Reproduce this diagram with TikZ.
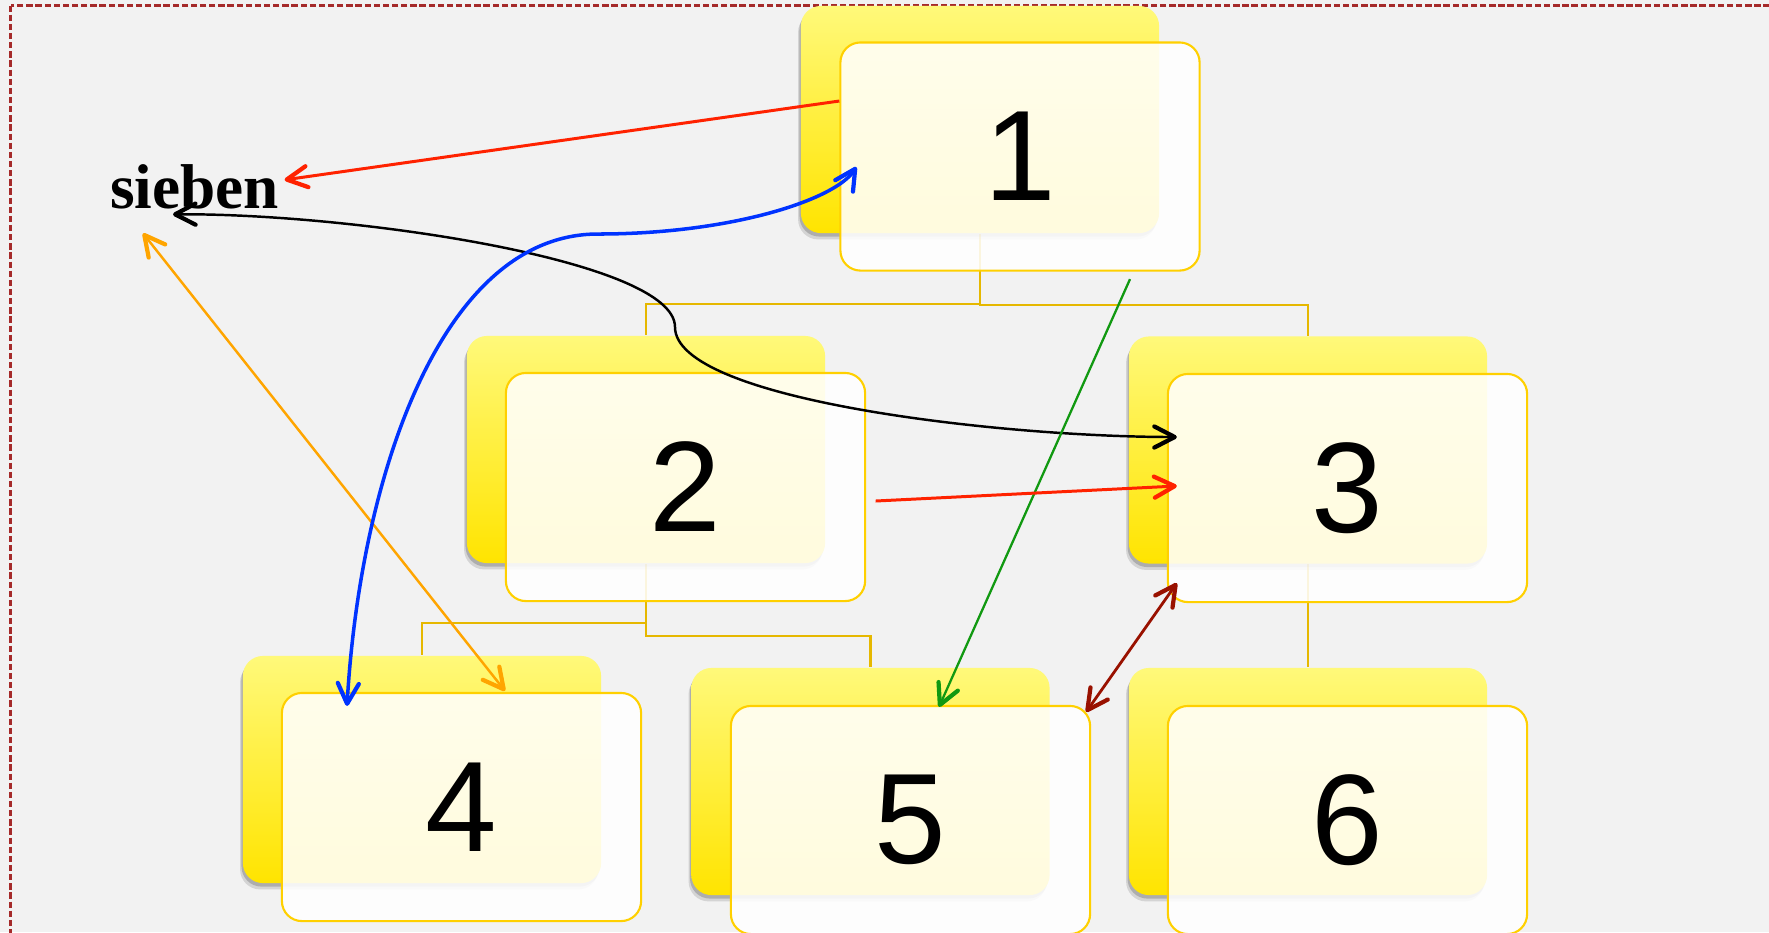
\documentclass[tikz,border=0pt]{standalone}
\usepackage{fontspec}
\setmainfont{Liberation Sans}
\newfontfamily\sebfont{Liberation Serif}
\usetikzlibrary{arrows.meta,calc,shadows}

\definecolor{bg}{HTML}{F2F2F2}
\definecolor{framec}{HTML}{A52A2A}
\definecolor{treeline}{HTML}{E6B800}
\definecolor{ytop}{HTML}{FFF97A}
\definecolor{ybot}{HTML}{FFE400}
\definecolor{fborder}{HTML}{FFD000}
\definecolor{ared}{HTML}{FF2200}
\definecolor{ablue}{HTML}{0033FF}
\definecolor{aorange}{HTML}{FFA500}
\definecolor{agreen}{HTML}{119911}
\definecolor{adark}{HTML}{991100}

\pgfdeclarelayer{bottom}
\pgfdeclarelayer{background}
\pgfsetlayers{bottom,background,main}

\begin{document}
\begin{tikzpicture}[x=0.01cm,y=-0.01cm,
  >={Straight Barb[length=5.8pt,width=6pt,line width=1.2pt,round]},
  backbox/.style={rectangle, rounded corners=0.2cm, minimum width=3.58cm, minimum height=2.27cm,
    top color=ytop, bottom color=ybot, inner sep=0pt,
    drop shadow={shadow xshift=-0.4pt, shadow yshift=-1.0pt, opacity=0.18, fill=black},
    drop shadow={shadow xshift=-0.8pt, shadow yshift=-1.8pt, opacity=0.12, fill=black}},
  frontbox/.style={rectangle, rounded corners=0.2cm, minimum width=3.59cm, minimum height=2.28cm,
    draw=fborder, line width=0.6pt, fill=white, fill opacity=0.87, text opacity=1,
    font=\fontsize{36.6pt}{40pt}\selectfont, inner sep=0pt},
  tree/.style={draw=treeline, line width=0.6pt},
  conn/.style={line width=0.7pt}]

\begin{pgfonlayer}{bottom}
  \fill[bg] (0,0) rectangle (1769,932);
  \begin{scope}
    \clip (0,0) rectangle (1769,932);
    \draw[framec, line width=0.6pt, dash pattern=on 1.8pt off 0.8pt] (10.5,5.5) rectangle (1800,970);
  \end{scope}
\end{pgfonlayer}
\useasboundingbox (0,0) rectangle (1769,932);

% node 1
\node[backbox] (b1) at (980,119.5) {};
\node[frontbox] (f1) at (1020,156.5) {1};
% node 2
\node[backbox] (b2) at (646,449.5) {};
\node[frontbox] (f2) at (685.5,487) {2};
% node 3
\node[backbox] (b3) at (1308,450) {};
\node[frontbox] (f3) at (1347.5,488) {3};
% node 4
\node[backbox] (b4) at (422,769.5) {};
\node[frontbox] (f4) at (461.5,807) {4};
% node 5
\node[backbox] (b5) at (870.5,781.5) {};
\node[frontbox] (f5) at (910.5,820) {5};
% node 6
\node[backbox] (b6) at (1308,781.5) {};
\node[frontbox] (f6) at (1347.5,820) {6};

% sieben
\node[font=\sebfont\bfseries\fontsize{18pt}{20pt}\selectfont, inner sep=0pt, anchor=base] (s) at (194.5,208) {sieben};

\begin{pgfonlayer}{background}
  \draw[tree] (b1.south) -- ++(0,70) -| (b2.north);
  \draw[tree] (b1.south) -- ++(0,71.5) -| (b3.north);
  \draw[tree] (b2.south) -- ++(0,59) -| (b4.north);
  \draw[tree] (b2.south) -- ++(0,72) -| (b5.north);
  \draw[tree] (b3.south) -- (b6.north);
\end{pgfonlayer}

% connectors
\draw[conn, ared, line width=0.85pt, ->] ($(f1.west)+(0,-55.5)$) -- ($(s.east)+(5,-6.5)$);
\draw[conn, black, <->] ($(s.south)+(-21.5,5)$) .. controls (350,213) and (675,260) .. (675,327)
   .. controls (675,400) and (1000,437) .. ($(f3.west)+(10,-51)$);
\draw[conn, aorange, <->] ($(s.south)+(-51.5,24)$) -- ($(f4.north)+(43.5,-1)$);
\draw[conn, ablue, line width=1pt, <->] ($(f4.north)+(-114.5,14)$) .. controls (360,480) and (440,234) .. (598,234)
   .. controls (730,234) and (835,200) .. ($(f1.west)+(17,10.5)$);
\draw[conn, agreen, line width=0.65pt, ->] ($(f1.south)+(110,7.5)$) -- ($(f5.north)+(28.5,2)$);
\draw[conn, ared, line width=0.85pt, ->] ($(f2.east)+(9.5,14)$) -- ($(f3.west)+(10,-2)$);
\draw[conn, adark, line width=0.8pt, <->] ($(f3.south west)+(10,-20)$) -- ($(f5.north east)+(-5,7)$);

\end{tikzpicture}
\end{document}
